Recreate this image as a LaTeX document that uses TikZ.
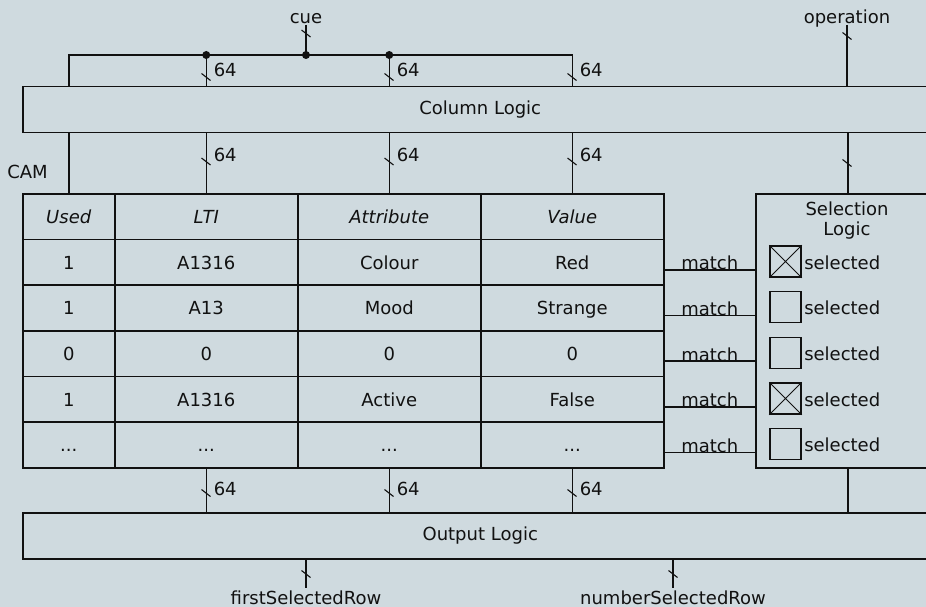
\documentclass[tikz,border=0pt]{standalone}
\usepackage{fontspec}
\setmainfont{DejaVu Sans}
\definecolor{bg}{RGB}{207,218,223}
\definecolor{ink}{RGB}{17,17,17}
\newcommand\busmark[1]{\draw[ink,line width=1.1pt] ([shift={(-4.5,-3.5)}]#1) -- ([shift={(4.5,3.5)}]#1);}
\newcommand\camrow[6]{%
  \node[cell, minimum width=92pt]  (t-#1-1) at (22,#2)  {#3};
  \node[cell, minimum width=183pt] (t-#1-2) at (114,#2) {#4};
  \node[cell, minimum width=183pt] (t-#1-3) at (297,#2) {#5};
  \node[cell, minimum width=183pt] (t-#1-4) at (480,#2) {#6};}
\begin{document}
\begin{tikzpicture}[x=1pt,y=-1pt, line width=1.5pt, draw=ink, text=ink,
  font=\fontsize{18}{20}\selectfont,
  box/.style={draw, inner sep=0pt, anchor=north west},
  cell/.style={draw, inner sep=0pt, minimum height=45.67pt, text height=15pt, text depth=1pt, anchor=north west},
  lbl/.style={inner sep=0pt},
  chk/.style={draw, inner sep=0pt, minimum size=31pt},
  dot/.style={circle, fill=ink, inner sep=0pt, minimum size=8pt}]
\useasboundingbox (0,0) rectangle (926,607);
\fill[bg] (0,0) rectangle (926,607);

% main blocks
\node[box, minimum width=915pt, minimum height=46pt] (col) at (22,86) {Column Logic};
\node[box, minimum width=915pt, minimum height=46pt] (out) at (22,512) {Output Logic};
\node[box, minimum width=184pt, minimum height=274pt] (sel) at (755,193) {};
\node[lbl, align=center, anchor=north] (selT) at (847,201) {Selection\\Logic};

% CAM table
\node[lbl, anchor=base] (cam) at (27.5,178) {CAM};
\camrow{0}{193}{\itshape Used}{\itshape LTI}{\itshape Attribute}{\itshape Value}
\camrow{1}{238.67}{1}{A1316}{Colour}{Red}
\camrow{2}{284.33}{1}{A13}{Mood}{Strange}
\camrow{3}{330}{0}{0}{0}{0}
\camrow{4}{375.67}{1}{A1316}{Active}{False}
\camrow{5}{421.33}{...}{...}{...}{...}

% inputs
\coordinate (cueT) at (306,25);
\coordinate (opT) at (847,25);
\coordinate (bus) at (0,55);
\node[lbl, anchor=base] (cueL) at (306,24) {cue};
\node[lbl, anchor=base] (opL) at (847,24) {operation};
\draw (cueT) -- (cueT |- bus) node[dot] (jc) {};
\busmark{306,33.5}
\draw (opT) -- (col.north -| opT);
\busmark{847,36}

% bus to column logic
\draw (col.north -| t-0-1) -- (t-0-1 |- bus) -- (t-0-4 |- bus) -- (col.north -| t-0-4);
\draw (t-0-2 |- bus) node[dot] (j2) {} -- (col.north -| t-0-2);
\draw (t-0-3 |- bus) node[dot] (j3) {} -- (col.north -| t-0-3);
\foreach \x in {206,389,572} {
  \busmark{\x,77}
  \node[lbl, anchor=base west] at (\x+7,77) {64};
}

% column logic to table / selection
\foreach \c in {1,2,3,4} { \draw (col.south -| t-0-\c) -- (t-0-\c.north); }
\draw (col.south -| sel.north) -- (sel.north);
\foreach \x in {206,389,572} {
  \busmark{\x,161.5}
  \node[lbl, anchor=base west] at (\x+7,161.5) {64};
}
\busmark{847,163}

% match lines and selection
\foreach \r in {1,...,5} {
  \draw ([yshift=-7.5pt]t-\r-4.east) coordinate (m\r) -- (m\r -| sel.west)
    node[lbl, pos=0.5, anchor=base] {match};
  \node[chk] (cb\r) at (785.5, 215.83+\r*45.67) {};
  \node[lbl, anchor=base west] at (803.5, 223.33+\r*45.67) {selected};
}
\draw[line width=1pt] (cb1.north west) -- (cb1.south east) (cb1.north east) -- (cb1.south west);
\draw[line width=1pt] (cb4.north west) -- (cb4.south east) (cb4.north east) -- (cb4.south west);

% table to output logic
\foreach \c in {2,3,4} { \draw (t-5-\c.south) -- (out.north -| t-5-\c); }
\draw (sel.south) -- (out.north -| sel.south);
\foreach \x in {206,389,572} {
  \busmark{\x,493}
  \node[lbl, anchor=base west] at (\x+7,495) {64};
}

% outputs
\coordinate (fsr) at (306,588);
\coordinate (nsr) at (673,588);
\draw (out.south -| fsr) -- (fsr);
\draw (out.south -| nsr) -- (nsr);
\busmark{306,574}
\busmark{673,574}
\node[lbl, anchor=base] (fsrL) at (306,604) {firstSelectedRow};
\node[lbl, anchor=base] (nsrL) at (673,604) {numberSelectedRow};
\end{tikzpicture}
\end{document}
